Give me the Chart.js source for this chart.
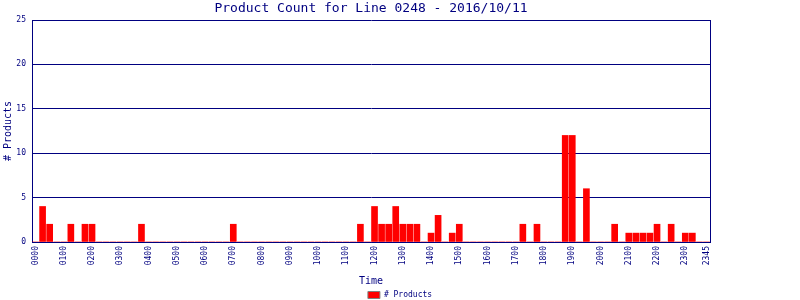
<!DOCTYPE html>
<html>
<head>
<meta charset="utf-8">
<script src="https://cdn.jsdelivr.net/npm/chart.js@4.4.0/dist/chart.umd.min.js"></script>
<style>
  body { margin: 0; background: white; }
</style>
</head>
<body>
<canvas id="myChart" width="800" height="300"></canvas>
<script>
// 15 minute slots for the day
let timeLabels = [
    "0000","0015","0030","0045","0100","0115","0130","0145","0200","0215","0230","0245",
    "0300","0315","0330","0345","0400","0415","0430","0445","0500","0515","0530","0545",
    "0600","0615","0630","0645","0700","0715","0730","0745","0800","0815","0830","0845",
    "0900","0915","0930","0945","1000","1015","1030","1045","1100","1115","1130","1145",
    "1200","1215","1230","1245","1300","1315","1330","1345","1400","1415","1430","1445",
    "1500","1515","1530","1545","1600","1615","1630","1645","1700","1715","1730","1745",
    "1800","1815","1830","1845","1900","1915","1930","1945","2000","2015","2030","2045",
    "2100","2115","2130","2145","2200","2215","2230","2245","2300","2315","2330","2345"
];

let productCounts = [
    0,4,2,0,0,2,0,2,2,0,0,0,0,0,0,2,
    0,0,0,0,0,0,0,0,0,0,0,0,2,0,0,0,
    0,0,0,0,0,0,0,0,0,0,0,0,0,0,2,0,
    4,2,2,4,2,2,2,0,1,3,0,1,2,0,0,0,
    0,0,0,0,0,2,0,2,0,0,0,12,12,0,6,0,
    0,0,2,0,1,1,1,1,2,0,2,0,1,1,0,0
];

let yTicks = [0, 5, 10, 15, 20, 25];

const navy = "#000080";
const mono = "'DejaVu Sans Mono', monospace";

// only the full hours and the last slot get a label
const showLabel = (i) => timeLabels[i].endsWith("00") || i === timeLabels.length - 1;

// vertical time labels, placed with the x scale
const xLabels = {
    id: 'x_labels',
    afterDraw: (chart) => {
        const sx = chart.scales.x;
        const ctx = chart.ctx;
        ctx.save();
        ctx.fillStyle = navy;
        ctx.font = "8px " + mono;
        ctx.textAlign = "right";
        ctx.textBaseline = "middle";
        timeLabels.forEach((l, i) => {
            if (!showLabel(i)) return;
            ctx.save();
            ctx.translate(sx.getPixelForValue(i), sx.top + 4);
            ctx.rotate(-Math.PI / 2);
            ctx.fillText(l, 0, 0);
            ctx.restore();
        });
        ctx.restore();
    }
};

new Chart(document.getElementById("myChart"), {
    type: "bar",
    plugins: [xLabels],
    data: {
        labels: timeLabels,
        datasets: [{
            label: "# Products",
            data: productCounts,
            yAxisID: "y",
            backgroundColor: "#ff0000",
            borderWidth: 0,
            barThickness: 6
        }]
    },
    options: {
        responsive: false,
        animation: false,
        plugins: {
            title: {
                display: true,
                fullSize: false,
                text: "Product Count for Line 0248 - 2016/10/11",
                color: navy,
                font: { family: mono, size: 13, weight: "normal", lineHeight: 1.2 },
                padding: { top: 1, bottom: 3.4 }
            },
            legend: {
                position: "bottom",
                maxHeight: 13,
                labels: {
                    color: navy,
                    font: { family: mono, size: 8 },
                    boxWidth: 12,
                    boxHeight: 7,
                    padding: 4,
                    generateLabels: (chart) => {
                        const items = Chart.defaults.plugins.legend.labels.generateLabels(chart);
                        items.forEach(it => { it.strokeStyle = "#808080"; it.lineWidth = 1; });
                        return items;
                    }
                }
            },
            tooltip: { enabled: false }
        },
        scales: {
            x: {
                offset: true,
                grid: { display: false, drawTicks: false },
                border: { display: true, color: navy, width: 1 },
                ticks: { display: false },
                title: {
                    display: true,
                    text: "Time",
                    color: navy,
                    font: { family: mono, size: 10, lineHeight: 1.2 },
                    padding: { top: 7, bottom: 0 }
                },
                afterFit: (scale) => { scale.height = 45; }
            },
            y: {
                min: yTicks[0],
                max: yTicks[yTicks.length - 1],
                afterBuildTicks: (scale) => { scale.ticks = yTicks.map(v => ({ value: v })); },
                grid: { color: navy, lineWidth: 1, drawTicks: false },
                border: { display: true, color: navy, width: 1 },
                ticks: {
                    padding: 6,
                    color: navy,
                    font: { family: mono, size: 8 }
                },
                title: {
                    display: true,
                    text: "# Products",
                    color: navy,
                    font: { family: mono, size: 10, lineHeight: 1.2 },
                    padding: { top: 2, bottom: 0 }
                },
                afterFit: (scale) => { scale.width = 32; }
            },
            // empty right axis, only for the right frame line and margin
            yRight: {
                type: "linear",
                position: "right",
                min: yTicks[0],
                max: yTicks[yTicks.length - 1],
                grid: { display: false, drawTicks: false },
                border: { display: true, color: navy, width: 1 },
                ticks: { display: false },
                afterFit: (scale) => { scale.width = 90; }
            }
        }
    }
});
</script>
</body>
</html>
